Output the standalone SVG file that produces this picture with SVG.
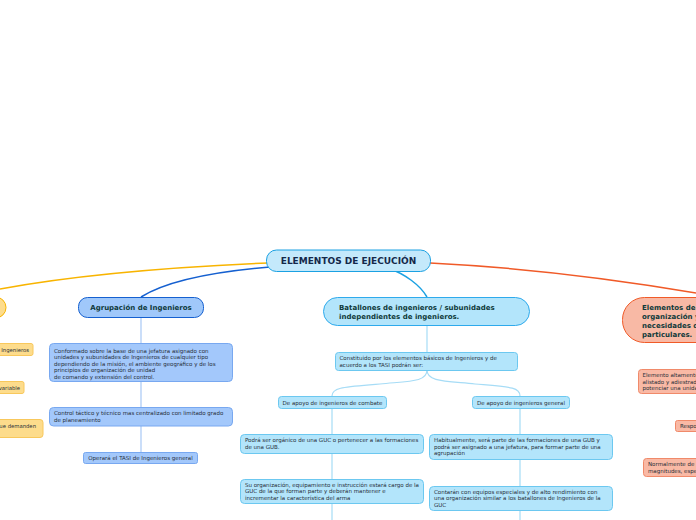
<svg xmlns="http://www.w3.org/2000/svg" width="696" height="520" viewBox="0 0 696 520">
<style>
text{font-family:"DejaVu Sans","Verdana",sans-serif;}
.t{font-size:5.5px;fill:#262e38;}
.ty{font-size:5.3px;fill:#262e38;}
.h{font-size:7px;font-weight:bold;fill:#0f3a3a;}
.blue{fill:#a3c8fb;stroke:#78a8f0;stroke-width:1;}
.cyan{fill:#b3e5fb;stroke:#6cc8f0;stroke-width:1;}
.org{fill:#f9b9a5;stroke:#f08a6a;stroke-width:1;}
.yel{fill:#fddc8c;stroke:#f8c85c;stroke-width:1;}
.cb{fill:none;stroke:#a8c8f5;stroke-width:1.2;}
.cc{fill:none;stroke:#a6dcf6;stroke-width:1.2;}
</style>
<rect width="696" height="520" fill="#ffffff"/>
<g id="connectors">
<path d="M268,263 C150,268 60,278 0,289" fill="none" stroke="#f8b400" stroke-width="1.5"/>
<path d="M270,267 C210,272 165,282 141,297" fill="none" stroke="#1560d0" stroke-width="1.5"/>
<path d="M388,268 C405,274 420,285 427,297" fill="none" stroke="#1ba1e2" stroke-width="1.5"/>
<path d="M430,263 C530,268 620,280 696,293" fill="none" stroke="#f05a28" stroke-width="1.5"/>
<path class="cb" d="M141,317 V343 M141,381 V407 M141,426 V452"/>
<path class="cc" d="M427,325 V352"/>
<path class="cc" d="M427,370 C427,382 410,381 380,384 C345,387 332,387 332,396"/>
<path class="cc" d="M427,370 C427,382 445,381 475,384 C510,387 520,387 520,396"/>
<path class="cc" d="M332,408 V434 M332,453 V479 M332,503 V520"/>
<path class="cc" d="M520,408 V434 M520,459 V486 M520,510 V520"/>
</g>
<g id="central">
<rect x="266.5" y="250" width="164" height="21.5" rx="10" fill="#c4e9fb" stroke="#1ba1e2" stroke-width="1"/>
<text x="348.5" y="264" text-anchor="middle" font-size="9" font-weight="bold" fill="#14284a">ELEMENTOS DE EJECUCIÓN</text>
</g>
<g id="yellow-main">
<rect x="-30" y="297" width="36" height="21" rx="10.5" fill="#fddc8c" stroke="#f8b400" stroke-width="1"/>
</g>
<g id="yellow-1"><rect class="yel" x="-10" y="343.5" width="43" height="12" rx="2"/><text class="ty" x="29" y="351.5" text-anchor="end">Ingenieros</text></g>
<g id="yellow-2"><rect class="yel" x="-10" y="381.5" width="34" height="12" rx="2"/><text class="ty" x="20" y="389.5" text-anchor="end">variable</text></g>
<g id="yellow-3"><rect class="yel" x="-10" y="419.5" width="53" height="18" rx="3"/><text class="ty" x="36" y="427.5" text-anchor="end">ue demanden</text></g>
<g id="agrupacion">
<rect x="78.5" y="297.5" width="125" height="20" rx="9" fill="#a0c8fa" stroke="#1560d0" stroke-width="1"/>
<text class="h" x="141" y="310" text-anchor="middle">Agrupación de Ingenieros</text>
</g>
<g id="agr-1"><rect class="blue" x="49.5" y="343.5" width="183" height="38" rx="4"/>
<text class="t" x="54" y="352.5">Conformado sobre la base de una jefatura asignado con</text>
<text class="t" x="54" y="359">unidades y subunidades de Ingenieros de cualquier tipo</text>
<text class="t" x="54" y="365.5">dependiendo de la misión, el ambiente geográfico y  de los</text>
<text class="t" x="54" y="372">principios de organización de unidad</text>
<text class="t" x="54" y="378.5"> de comando y extensión del control.</text></g>
<g id="agr-2"><rect class="blue" x="49.5" y="407.5" width="183" height="18.5" rx="4"/>
<text class="t" x="54" y="415">Control táctico y técnico mas centralizado con limitado grado</text>
<text class="t" x="54" y="421.5">de planeamiento</text></g>
<g id="agr-3"><rect class="blue" x="83.5" y="452.5" width="114" height="11" rx="2"/>
<text class="t" x="140.5" y="460" text-anchor="middle">Operará el TASI de Ingenieros general</text></g>
<g id="batallones">
<rect x="323.5" y="297.5" width="206" height="28" rx="14" fill="#b3e5fb" stroke="#2eaaec" stroke-width="1"/>
<text class="h" x="339" y="310">Batallones de ingenieros / subunidades</text>
<text class="h" x="339" y="319">independientes de ingenieros.</text>
</g>
<g id="bat-1"><rect class="cyan" x="335.5" y="352.5" width="182" height="18" rx="3"/>
<text class="t" x="339.5" y="359.5">Constituido por los elementos básicos de Ingenieros y de</text>
<text class="t" x="339.5" y="366.5">acuerdo a los TASI podrán ser:</text></g>
<g id="combate"><rect class="cyan" x="278.5" y="396.5" width="108" height="12" rx="3"/>
<text class="t" x="332.5" y="404.5" text-anchor="middle">De apoyo de ingenieros de combate</text></g>
<g id="general"><rect class="cyan" x="472.5" y="396.5" width="97" height="12" rx="3"/>
<text class="t" x="521" y="404.5" text-anchor="middle">De apoyo de ingenieros general</text></g>
<g id="comb-1"><rect class="cyan" x="240.5" y="434.5" width="183" height="19" rx="4"/>
<text class="t" x="245" y="442">Podrá ser orgánico de una GUC o pertenecer a las formaciones</text>
<text class="t" x="245" y="448.5">de una GUB.</text></g>
<g id="comb-2"><rect class="cyan" x="240.5" y="479.5" width="183" height="24" rx="4"/>
<text class="t" x="245" y="486.5">Su organización, equipamiento e instrucción estará cargo de la</text>
<text class="t" x="245" y="493">GUC de la que forman parte y deberán mantener e</text>
<text class="t" x="245" y="499.5">incrementar la característica del arma</text></g>
<g id="gen-1"><rect class="cyan" x="429.5" y="434.5" width="183" height="25" rx="4"/>
<text class="t" x="434" y="442">Habitualmente, será parte de las formaciones de una GUB y</text>
<text class="t" x="434" y="448.5">podrá ser asignado a una jefatura, para formar parte de una</text>
<text class="t" x="434" y="455">agrupación</text></g>
<g id="gen-2"><rect class="cyan" x="429.5" y="486.5" width="183" height="24" rx="4"/>
<text class="t" x="434" y="493.5">Contarán con equipos especiales y de alto rendimiento con</text>
<text class="t" x="434" y="500">una organización similar a los batallones de Ingenieros de la</text>
<text class="t" x="434" y="506.5">GUC</text></g>
<g id="elementos">
<rect x="622.5" y="297.5" width="120" height="45" rx="22" fill="#f8b9a5" stroke="#f05a28" stroke-width="1"/>
<text class="h" x="642" y="310">Elementos de</text>
<text class="h" x="642" y="319">organización y</text>
<text class="h" x="642" y="328">necesidades de</text>
<text class="h" x="642" y="337">particulares.</text>
</g>
<g id="el-1"><rect class="org" x="638.5" y="369.5" width="70" height="24" rx="3"/>
<text class="t" x="642.5" y="377">Elemento altamente</text>
<text class="t" x="642.5" y="383.5">alistado y adiestrado</text>
<text class="t" x="642.5" y="390">potenciar una unidad</text></g>
<g id="el-2"><rect class="org" x="675.5" y="420.5" width="30" height="11" rx="2"/>
<text class="t" x="680" y="428">Respo</text></g>
<g id="el-3"><rect class="org" x="643.5" y="458.5" width="60" height="18" rx="3"/>
<text class="t" x="648" y="466">Normalmente de</text>
<text class="t" x="648" y="472.5">magnitudes, espe</text></g>
</svg>
